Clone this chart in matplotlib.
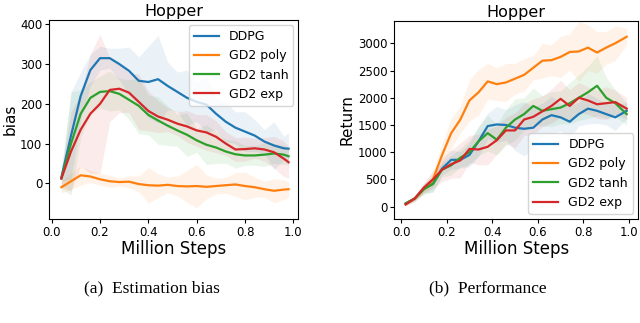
import matplotlib
matplotlib.use('Agg')
import matplotlib.pyplot as plt
import numpy as np

# ---- (a) estimation bias ----
x_bias = [0.04, 0.08, 0.12, 0.16, 0.20, 0.24, 0.28, 0.32, 0.36, 0.40, 0.44, 0.48,
          0.52, 0.56, 0.60, 0.64, 0.68, 0.72, 0.76, 0.80, 0.84, 0.88, 0.92, 0.96, 0.98]
bias_ddpg = [15, 120, 220, 285, 315, 315, 300, 283, 258, 255, 262, 245,
             230, 215, 205, 198, 175, 155, 140, 130, 120, 105, 95, 88, 87]
bias_poly = [-10, 5, 20, 17, 10, 5, 3, 4, -2, -5, -6, -4,
             -7, -8, -7, -9, -7, -5, -3, -7, -10, -15, -19, -16, -15]
bias_tanh = [12, 100, 175, 215, 230, 232, 225, 210, 195, 172, 158, 145,
             133, 122, 108, 97, 90, 80, 73, 70, 70, 72, 75, 72, 68]
bias_exp = [12, 80, 135, 175, 200, 235, 238, 228, 205, 182, 168, 160,
            150, 143, 133, 128, 117, 100, 85, 86, 88, 85, 78, 62, 53]
# half width of shaded band
bias_ddpg_sd = [10, 110, 60, 40, 30, 25, 40, 60, 60, 90, 110, 60,
                50, 70, 50, 70, 40, 50, 40, 50, 40, 30, 60, 30, 40]
bias_poly_sd = [15, 20, 25, 15, 15, 15, 10, 15, 20, 45, 30, 20,
                25, 40, 55, 30, 20, 20, 30, 35, 25, 20, 30, 25, 20]
bias_tanh_sd = [25, 130, 60, 40, 40, 50, 40, 50, 70, 50, 60, 50,
                40, 55, 30, 50, 40, 30, 35, 25, 25, 30, 25, 25, 20]
bias_exp_sd = [20, 100, 90, 150, 175, 80, 60, 50, 70, 50, 40, 30,
               30, 40, 40, 45, 40, 30, 30, 30, 25, 30, 40, 45, 40]

# ---- (b) performance ----
x_ret = [0.02, 0.06, 0.10, 0.14, 0.18, 0.22, 0.26, 0.30, 0.34, 0.38, 0.42, 0.46,
         0.50, 0.54, 0.58, 0.62, 0.66, 0.70, 0.74, 0.78, 0.82, 0.86, 0.90, 0.94, 0.99]
ret_ddpg = [60, 150, 330, 420, 700, 860, 860, 950, 1200, 1480, 1510, 1500,
            1450, 1430, 1450, 1600, 1680, 1640, 1560, 1700, 1800, 1760, 1700, 1640, 1760]
ret_poly = [50, 150, 320, 500, 950, 1350, 1600, 1950, 2100, 2300, 2250, 2280,
            2350, 2420, 2550, 2680, 2690, 2750, 2840, 2850, 2920, 2830, 2920, 3000, 3120]
ret_tanh = [60, 150, 320, 420, 680, 760, 900, 1000, 1200, 1350, 1230, 1450,
            1600, 1700, 1850, 1760, 1790, 1820, 1900, 2000, 2100, 2220, 2000, 1900, 1700]
ret_exp = [40, 150, 350, 500, 680, 780, 850, 1060, 1050, 1100, 1220, 1400,
           1400, 1600, 1650, 1750, 1850, 1980, 1850, 2000, 1950, 1880, 1900, 1920, 1800]
ret_ddpg_sd = [30, 40, 80, 150, 120, 180, 150, 220, 280, 240, 330, 280,
               420, 500, 380, 300, 350, 250, 300, 220, 280, 230, 200, 240, 150]
ret_poly_sd = [30, 50, 80, 150, 200, 280, 250, 380, 420, 330, 300, 350,
               280, 300, 220, 320, 280, 380, 330, 550, 420, 380, 300, 320, 150]
ret_tanh_sd = [30, 50, 100, 150, 130, 180, 170, 230, 260, 330, 280, 330,
               380, 300, 330, 280, 320, 300, 380, 420, 480, 550, 380, 250, 200]
ret_exp_sd = [30, 50, 90, 160, 220, 260, 320, 250, 280, 330, 260, 240,
              320, 290, 330, 280, 310, 340, 300, 280, 250, 260, 300, 220, 200]

names = ['DDPG', 'GD2 poly', 'GD2 tanh', 'GD2 exp']
colors = ['tab:blue', 'tab:orange', 'tab:green', 'tab:red']

fig = plt.figure(figsize=(6.4, 3.23), dpi=100)
ax1 = fig.add_axes([0.077, 0.322, 0.389, 0.616])
ax2 = fig.add_axes([0.616, 0.322, 0.381, 0.613])

bias_lines = [bias_ddpg, bias_poly, bias_tanh, bias_exp]
bias_sds = [bias_ddpg_sd, bias_poly_sd, bias_tanh_sd, bias_exp_sd]
for y, sd, c, n in zip(bias_lines, bias_sds, colors, names):
    y = np.array(y, dtype=float)
    sd = np.array(sd, dtype=float)
    ax1.fill_between(x_bias, y - sd, y + sd, color=c, alpha=0.09, lw=0)
    ax1.plot(x_bias, y, color=c, lw=1.6, label=n)

ret_lines = [ret_ddpg, ret_poly, ret_tanh, ret_exp]
ret_sds = [ret_ddpg_sd, ret_poly_sd, ret_tanh_sd, ret_exp_sd]
for y, sd, c, n in zip(ret_lines, ret_sds, colors, names):
    y = np.array(y, dtype=float)
    sd = np.array(sd, dtype=float)
    ax2.fill_between(x_ret, y - sd, y + sd, color=c, alpha=0.09, lw=0)
    ax2.plot(x_ret, y, color=c, lw=1.6, label=n)

ax1.set_xlim(-0.01, 1.02)
ax1.set_ylim(-90, 411)
ax1.set_yticks([0, 100, 200, 300, 400])
ax1.set_ylabel('bias', fontsize=11, labelpad=2)
ax1.legend(loc='upper right', fontsize=9, handlelength=2.0, borderaxespad=0.4)

ax2.set_xlim(-0.03, 1.04)
ax2.set_ylim(-226, 3409)
ax2.set_yticks([0, 500, 1000, 1500, 2000, 2500, 3000])
ax2.set_ylabel('Return', fontsize=11, labelpad=2)
ax2.legend(loc='lower right', fontsize=9, handlelength=2.0, borderaxespad=0.4)

for ax in (ax1, ax2):
    ax.set_title('Hopper', fontsize=11.5, pad=3)
    ax.set_xlabel('Million Steps', fontsize=12, labelpad=1)
    ax.set_xticks([0.0, 0.2, 0.4, 0.6, 0.8, 1.0])
    ax.tick_params(labelsize=8.5, length=3, pad=2)

fig.text(0.237, 0.108, '(a)  Estimation bias', ha='center', va='center',
         fontsize=12.5, family='Liberation Serif')
fig.text(0.762, 0.108, '(b)  Performance', ha='center', va='center',
         fontsize=12.5, family='Liberation Serif')

fig.savefig('out.png', dpi=100)
